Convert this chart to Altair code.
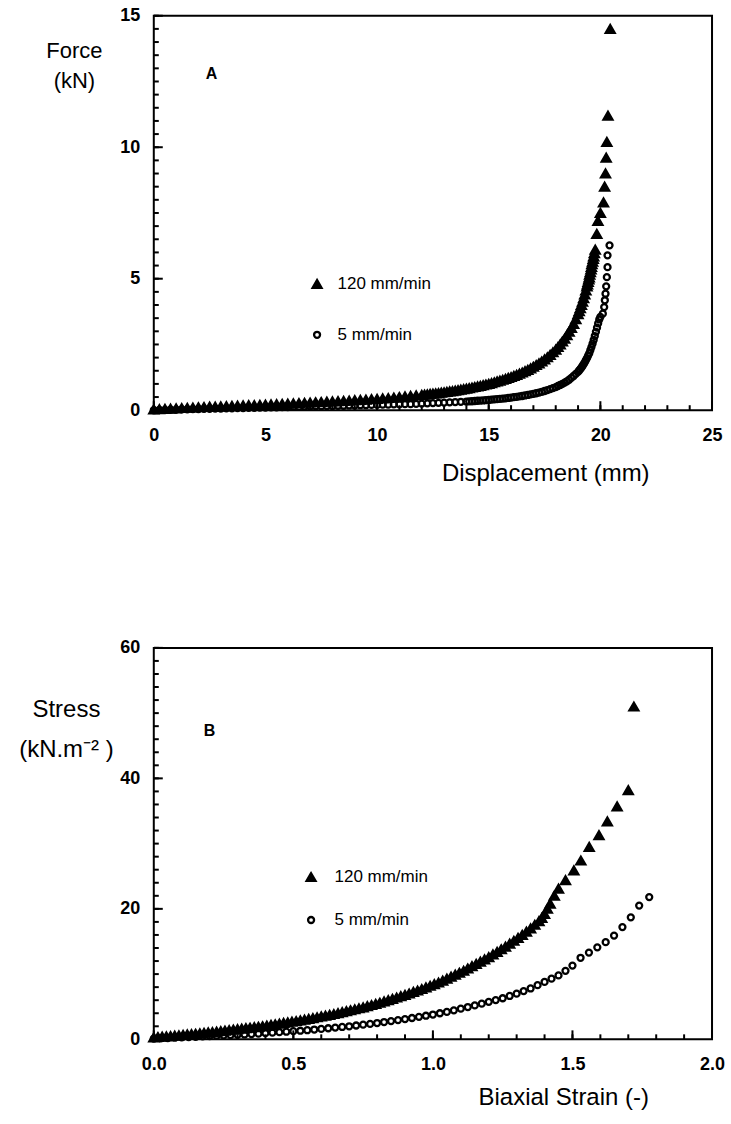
import altair as alt
import pandas as pd

FONT = "Liberation Sans"
SERIES = ["120 mm/min", "5 mm/min"]

# ---------------- Panel A: Force vs Displacement ----------------
A_TRI_X = [0.0,0.25,0.5,0.75,1.0,1.25,1.5,1.75,2.0,2.25,2.5,2.75,3.0,3.25,3.5,3.75,4.0,4.25,4.5,4.75,
           5.0,5.25,5.5,5.75,6.0,6.25,6.5,6.75,7.0,7.25,7.5,7.75,8.0,8.25,8.5,8.75,9.0,9.25,9.5,9.75,
           10.0,10.25,10.5,10.75,11.0,11.25,11.5,11.75,12.0,12.25,12.5,12.75,13.0,13.25,13.5,13.75,14.0,14.25,14.5,14.75,
           15.0,15.25,15.5,15.75,16.0,16.25,16.5,16.75,17.0,17.25,17.5,17.75,18.0,
           18.2,18.4,18.6,18.8,19.0,19.1,19.2,19.3,19.4,19.45,19.5,19.55,19.6,19.65,19.7,19.77,
           19.84,19.89,20.0,20.14,20.19,20.23,20.26,20.29,20.34,20.44]
A_TRI_Y = [0.03,0.04,0.05,0.06,0.07,0.08,0.09,0.10,0.11,0.12,0.13,0.13,0.14,0.15,0.16,0.17,0.18,0.19,0.19,0.20,
           0.21,0.22,0.23,0.24,0.25,0.26,0.27,0.28,0.29,0.30,0.31,0.32,0.33,0.34,0.35,0.36,0.38,0.39,0.40,0.42,
           0.43,0.45,0.46,0.48,0.50,0.52,0.54,0.56,0.58,0.60,0.63,0.65,0.68,0.71,0.74,0.78,0.82,0.86,0.90,0.95,
           1.00,1.06,1.12,1.19,1.26,1.34,1.43,1.53,1.65,1.78,1.93,2.10,2.30,
           2.50,2.72,2.98,3.28,3.65,3.88,4.12,4.40,4.70,4.88,5.05,5.25,5.45,5.65,5.85,6.10,
           6.70,7.20,7.50,7.90,8.50,9.00,9.60,10.20,11.20,14.50]
# denser readings along the rising part of the 120 mm/min band
A_TRI_X_MORE = [12.125,12.375,12.625,12.875,13.125,13.375,13.625,13.875,14.125,14.375,14.625,14.875,
                15.125,15.375,15.625,15.875,16.125,16.375,16.625,16.875,17.125,17.375,17.625,17.875,
                18.1,18.3,18.5,18.7,18.9,19.05,19.15,19.25,19.35,19.42,19.48,19.52,19.58,19.62,19.68,19.73]
A_TRI_Y_MORE = [0.59,0.615,0.64,0.665,0.695,0.725,0.76,0.80,0.84,0.88,0.925,0.975,
                1.03,1.09,1.155,1.225,1.30,1.385,1.48,1.59,1.715,1.85,2.01,2.20,
                2.40,2.61,2.85,3.13,3.46,3.76,4.00,4.26,4.55,4.78,4.97,5.15,5.35,5.55,5.75,5.97]
A_CIR_X = [0.0,0.25,0.5,0.75,1.0,1.25,1.5,1.75,2.0,2.25,2.5,2.75,3.0,3.25,3.5,3.75,4.0,4.25,4.5,4.75,
           5.0,5.25,5.5,5.75,6.0,6.25,6.5,6.75,7.0,7.25,7.5,7.75,8.0,8.25,8.5,8.75,9.0,9.25,9.5,9.75,
           10.0,10.25,10.5,10.75,11.0,11.25,11.5,11.75,12.0,12.25,12.5,12.75,13.0,13.25,13.5,13.75,14.0,14.25,14.5,14.75,
           15.0,15.25,15.5,15.75,16.0,16.25,16.5,16.75,17.0,17.25,17.5,17.75,18.0,
           18.2,18.4,18.6,18.8,19.0,19.1,19.2,19.3,19.4,19.5,
           19.55,19.6,19.65,19.7,19.75,19.8,19.85,19.9,19.95,20.0,
           20.11,20.17,20.2,20.23,20.26,20.29,20.32,20.32,20.41]
A_CIR_Y = [0.0,0.01,0.01,0.02,0.02,0.03,0.03,0.04,0.04,0.05,0.05,0.06,0.06,0.07,0.07,0.08,0.08,0.09,0.09,0.10,
           0.10,0.11,0.11,0.12,0.12,0.13,0.13,0.14,0.14,0.15,0.15,0.16,0.16,0.17,0.17,0.18,0.18,0.19,0.19,0.20,
           0.20,0.21,0.21,0.22,0.22,0.23,0.23,0.24,0.25,0.26,0.27,0.28,0.29,0.30,0.31,0.32,0.33,0.34,0.36,0.37,
           0.39,0.41,0.43,0.45,0.48,0.51,0.54,0.58,0.62,0.67,0.73,0.80,0.88,
           0.96,1.05,1.16,1.30,1.46,1.56,1.68,1.82,1.98,2.16,
           2.28,2.40,2.53,2.67,2.82,2.98,3.14,3.30,3.45,3.55,
           3.67,3.92,4.18,4.43,4.71,5.06,5.44,5.89,6.27]
A_CIR_X_MORE = [14.125,14.375,14.625,14.875,15.125,15.375,15.625,15.875,16.125,16.375,16.625,16.875,
                17.125,17.375,17.625,17.875,18.1,18.3,18.5,18.7,18.9,19.05,19.15,19.25,19.35,19.45]
A_CIR_Y_MORE = [0.335,0.35,0.365,0.38,0.40,0.42,0.44,0.465,0.495,0.525,0.56,0.60,
                0.645,0.70,0.765,0.84,0.92,1.00,1.10,1.23,1.38,1.51,1.62,1.75,1.90,2.07]

# ---------------- Panel B: Stress vs Biaxial strain ----------------
B_TRI_X = [0.0,0.03,0.06,0.09,0.12,0.15,0.18,0.21,0.24,0.27,0.30,0.33,0.36,0.39,0.42,0.45,0.48,0.51,0.54,0.57,
           0.60,0.63,0.66,0.69,0.72,0.75,0.78,0.81,0.84,0.87,0.90,0.93,0.96,0.99,1.02,1.05,1.08,1.11,1.14,1.17,
           1.20,1.23,1.26,1.29,1.32,1.35,1.38,
           1.40,1.42,1.45,1.475,1.505,1.53,1.56,1.595,1.625,1.66,1.70,1.72]
B_TRI_Y = [0.3,0.4,0.5,0.6,0.75,0.85,1.0,1.1,1.25,1.4,1.55,1.7,1.85,2.0,2.2,2.4,2.6,2.8,3.0,3.25,
           3.5,3.75,4.0,4.3,4.6,4.9,5.25,5.6,6.0,6.4,6.8,7.25,7.7,8.2,8.7,9.3,9.9,10.5,11.2,11.9,
           12.6,13.4,14.2,15.1,16.0,17.0,18.1,
           19.2,20.8,23.1,24.4,25.9,27.4,29.5,31.3,33.4,35.7,38.2,51.0]
B_TRI_X_MORE = [0.015,0.045,0.075,0.105,0.135,0.165,0.195,0.225,0.255,0.285,0.315,0.345,0.375,0.405,0.435,
                0.465,0.495,0.525,0.555,0.585,
                0.615,0.645,0.675,0.705,0.735,0.765,0.795,0.825,0.855,0.885,0.915,0.945,0.975,1.005,1.035,
                1.065,1.095,1.125,1.155,1.185,1.215,1.245,1.275,1.305,1.335,1.365,1.39,1.41,1.435]
B_TRI_Y_MORE = [0.35,0.45,0.55,0.67,0.8,0.92,1.05,1.17,1.32,1.47,1.62,1.77,1.92,2.1,2.3,
                2.5,2.7,2.9,3.12,3.37,
                3.62,3.87,4.15,4.45,4.75,5.07,5.42,5.8,6.2,6.6,7.02,7.47,7.95,8.45,9.0,
                9.6,10.2,10.85,11.55,12.25,13.0,13.8,14.65,15.55,16.5,17.55,18.6,20.0,22.0]
B_CIR_X = [0.0,0.025,0.05,0.075,0.1,0.125,0.15,0.175,0.2,0.225,0.25,0.275,0.3,0.325,0.35,0.375,0.4,0.425,0.45,0.475,
           0.5,0.525,0.55,0.575,0.6,0.625,0.65,0.675,0.7,0.725,0.75,0.775,0.8,0.825,0.85,0.875,0.9,0.925,0.95,0.975,
           1.0,1.025,1.05,1.075,1.1,1.125,1.15,1.175,1.2,1.225,1.25,1.275,1.3,1.325,1.35,1.375,1.4,1.425,1.45,1.475,1.5,
           1.529,1.559,1.589,1.619,1.649,1.679,1.709,1.739,1.775]
B_CIR_Y = [0.1,0.15,0.2,0.25,0.3,0.35,0.4,0.45,0.5,0.55,0.6,0.65,0.7,0.75,0.8,0.87,0.95,1.02,1.1,1.17,
           1.25,1.32,1.4,1.5,1.6,1.7,1.8,1.9,2.0,2.12,2.25,2.37,2.5,2.65,2.8,2.95,3.1,3.27,3.45,3.62,
           3.8,4.0,4.2,4.45,4.7,4.95,5.2,5.47,5.75,6.02,6.3,6.65,7.0,7.4,7.8,8.3,8.8,9.3,9.8,10.5,11.3,
           12.5,13.3,14.1,14.9,15.9,17.2,18.7,20.5,21.8]

A_X_LABELS = [0, 5, 10, 15, 20, 25]
A_X_MINOR = list(range(0, 26))
A_Y_LABELS = [0, 5, 10, 15]
A_Y_MINOR = [i * 0.5 for i in range(0, 31)]
B_X_LABELS = [0.0, 0.5, 1.0, 1.5, 2.0]
B_X_MINOR = [round(i * 0.1, 1) for i in range(0, 21)]
B_Y_LABELS = [0, 20, 40, 60]
B_Y_MINOR = [i * 2 for i in range(0, 31)]


def make_df(tx, ty, cx, cy):
    rows = [{"x": a, "y": b, "s": SERIES[0]} for a, b in zip(tx, ty)]
    rows += [{"x": a, "y": b, "s": SERIES[1]} for a, b in zip(cx, cy)]
    return pd.DataFrame(rows)


def ticks_x(vals, xs, H, length):
    return alt.Chart(pd.DataFrame({"v": vals})).mark_rule(color="black", strokeWidth=2).encode(
        x=alt.X("v:Q", scale=xs, axis=None), y=alt.value(H), y2=alt.value(H - length))


def ticks_y(vals, ys, length):
    return alt.Chart(pd.DataFrame({"v": vals})).mark_rule(color="black", strokeWidth=2).encode(
        y=alt.Y("v:Q", scale=ys, axis=None), x=alt.value(0), x2=alt.value(length))


def panel(df, W, H, xdom, ydom, xlab, xmin, ylab, ymin, xtitle, ytitle,
          xfmt, xtx, xty, ytx, yty, ylh, ytfs, letter, ldx, ldy, legx, legy, rowpad, lab_off):
    xs = alt.Scale(domain=xdom, nice=False, zero=False)
    ys = alt.Scale(domain=ydom, nice=False, zero=False)
    leg = alt.Legend(title=None, orient="none", legendX=legx, legendY=legy,
                     labelFont=FONT, labelFontSize=17, labelColor="black",
                     rowPadding=rowpad, labelOffset=lab_off, symbolStrokeWidth=2.3)
    pts = alt.Chart(df).mark_point(strokeWidth=2.3, opacity=1, filled=True).encode(
        x=alt.X("x:Q", scale=xs, axis=alt.Axis(
            orient="bottom", values=xlab, format=xfmt, ticks=False, domain=False, grid=False,
            labelFlush=False, labelOverlap=False,
            labelFont=FONT, labelFontSize=18, labelFontWeight="bold", labelColor="black",
            labelPadding=16, title=xtitle, titleFont=FONT, titleFontSize=24,
            titleFontWeight="normal", titleColor="black", titleX=xtx, titleY=xty,
            titleAlign="center", titleBaseline="middle")),
        y=alt.Y("y:Q", scale=ys, axis=alt.Axis(
            orient="left", values=ylab, ticks=False, domain=False, grid=False,
            labelFlush=False, labelOverlap=False,
            labelFont=FONT, labelFontSize=18, labelFontWeight="bold", labelColor="black",
            labelPadding=14, title=ytitle, titleFont=FONT, titleFontSize=ytfs,
            titleFontWeight="normal", titleColor="black", titleAngle=0, titleX=ytx, titleY=yty,
            titleAlign="center", titleBaseline="middle", titleLineHeight=ylh)),
        shape=alt.Shape("s:N", scale=alt.Scale(domain=SERIES, range=["triangle-up", "circle"]), legend=leg),
        fill=alt.Fill("s:N", scale=alt.Scale(domain=SERIES, range=["black", "transparent"]), legend=leg),
        stroke=alt.Stroke("s:N", scale=alt.Scale(domain=SERIES, range=["black", "black"]), legend=leg),
        size=alt.Size("s:N", scale=alt.Scale(domain=SERIES, range=[80, 36]), legend=leg),
    )
    layers = [pts,
              ticks_x(xmin, xs, H, 5), ticks_x(xlab, xs, H, 9),
              ticks_y(ymin, ys, 5), ticks_y(ylab, ys, 9)]
    return alt.layer(*layers).resolve_axis(x="independent", y="independent").properties(
        width=W, height=H,
        title=alt.TitleParams(text=letter, anchor="start", frame="group", orient="top", offset=0,
                              dx=ldx, dy=ldy, font=FONT, fontSize=16, fontWeight="bold", color="black"),
    )


dfa = make_df(A_TRI_X + A_TRI_X_MORE, A_TRI_Y + A_TRI_Y_MORE, A_CIR_X + A_CIR_X_MORE, A_CIR_Y + A_CIR_Y_MORE)
dfb = make_df(B_TRI_X + B_TRI_X_MORE, B_TRI_Y + B_TRI_Y_MORE, B_CIR_X, B_CIR_Y)

chart_a = panel(dfa, 559, 395, [0, 25], [0, 15], A_X_LABELS, A_X_MINOR,
                A_Y_LABELS, A_Y_MINOR, "Displacement (mm)", ["Force", "(kN)"],
                "d", 392, 63, -80, 35, 30, 22, "A", 52, 75, 155, 260, 33, 12)
chart_b = panel(dfb, 559, 392, [0, 2], [0, 60], B_X_LABELS, B_X_MINOR,
                B_Y_LABELS, B_Y_MINOR, "Biaxial Strain (-)", ["Stress", "(kN.m\u207b\u00b2 )"],
                ".1f", 410, 58, -88, 62, 40, 24, "B", 50, 100, 149, 221, 25, 15)

chart = alt.vconcat(chart_a, chart_b, spacing=238, bounds="flush").resolve_scale(
    shape="independent", fill="independent", stroke="independent", size="independent"
).properties(
    padding={"left": 17, "top": 5, "right": 5, "bottom": 5}, background="white"
).configure_view(stroke="black", strokeWidth=2)

chart.save("out.html", embed_options={"renderer": "svg", "actions": False})
